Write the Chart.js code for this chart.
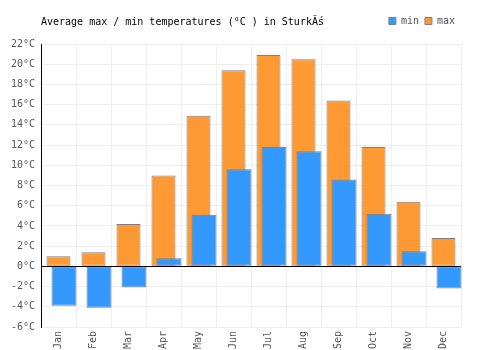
<!DOCTYPE html>
<html>
<head>
<meta charset="utf-8">
<title>Sturkö temperatures</title>
<script src="https://cdn.jsdelivr.net/npm/chart.js@4.4.0/dist/chart.umd.min.js"></script>
<style>
    html, body { margin: 0; padding: 0; background: #ffffff; }
    #wrap { width: 500px; height: 350px; }
</style>
</head>
<body>
<div id="wrap"><canvas id="tempChart" width="500" height="350"></canvas></div>
<script>
// Average monthly temperatures (°C)
const months = ['Jan', 'Feb', 'Mar', 'Apr', 'May', 'Jun', 'Jul', 'Aug', 'Sep', 'Oct', 'Nov', 'Dec'];
const minTemps = [-3.9, -4.1, -2.1, 0.8, 5.1, 9.6, 11.8, 11.4, 8.6, 5.2, 1.5, -2.2];
const maxTemps = [1.0, 1.4, 4.2, 9.0, 14.9, 19.4, 20.9, 20.5, 16.4, 11.8, 6.4, 2.8];
const yTickValues = [-6, -4, -2, 0, 2, 4, 6, 8, 10, 12, 14, 16, 18, 20, 22];

const titleText = 'Average max / min temperatures (°C ) in SturkĂś';
const gridColor = '#eeeeee';
const tickColor = '#555555';

// min bars sit a bit right of the max bars: slide the hidden x2 axis
const shiftMinAxis = {
    id: 'shiftMinAxis',
    afterLayout(chart) {
        const x2 = chart.scales.x2;
        const step = (x2.right - x2.left) / months.length;
        const dx = step * 0.157;
        x2.left += dx;
        x2.right += dx;
        x2.configure();
    }
};

// black zero line drawn over the bars
const zeroLine = {
    id: 'zeroLine',
    afterDatasetsDraw(chart) {
        const { ctx, chartArea, scales } = chart;
        const y = Math.round(scales.y.getPixelForValue(0)) + 0.5;
        ctx.save();
        ctx.strokeStyle = '#000';
        ctx.lineWidth = 1;
        ctx.beginPath();
        ctx.moveTo(chartArea.left, y);
        ctx.lineTo(chartArea.right, y);
        ctx.stroke();
        ctx.restore();
    }
};

document.addEventListener('DOMContentLoaded', function() {
    Chart.defaults.font.family = "'DejaVu Sans Mono', 'Liberation Mono', monospace";
    Chart.defaults.font.size = 10;

    const ctx = document.getElementById('tempChart').getContext('2d');
    new Chart(ctx, {
        type: 'bar',
        data: {
            labels: months,
            datasets: [{
                label: 'min',
                data: minTemps,
                xAxisID: 'x2',
                grouped: false,
                backgroundColor: '#3399ff',
                borderColor: '#808080',
                borderWidth: 1,
                borderSkipped: false,
                categoryPercentage: 1,
                barPercentage: 0.714
            }, {
                label: 'max',
                data: maxTemps,
                xAxisID: 'x',
                grouped: false,
                backgroundColor: '#ff9933',
                borderColor: '#808080',
                borderWidth: 1,
                borderSkipped: false,
                categoryPercentage: 1,
                barPercentage: 0.686
            }]
        },
        options: {
            responsive: false,
            animation: false,
            layout: { padding: { top: 10, right: 39, bottom: 0, left: 0 } },
            plugins: {
                legend: {
                    position: 'top',
                    align: 'end',
                    weight: 1000,
                    labels: {
                        color: tickColor,
                        boxWidth: 7,
                        boxHeight: 7,
                        padding: 6
                    }
                },
                title: {
                    display: true,
                    text: titleText,
                    align: 'start',
                    position: 'top',
                    fullSize: false,
                    weight: 500,
                    color: '#000',
                    font: { size: 10, weight: 'normal' },
                    padding: { top: -20, bottom: 16 }
                },
                tooltip: { enabled: false }
            },
            scales: {
                x: {
                    type: 'category',
                    offset: true,
                    grid: { color: gridColor, offset: true, drawTicks: false },
                    border: { display: false },
                    ticks: {
                        color: tickColor,
                        maxRotation: 90,
                        minRotation: 90,
                        autoSkip: false,
                        padding: 4
                    },
                    afterFit: axis => { axis.height = 23; }
                },
                x2: {
                    type: 'category',
                    display: false,
                    offset: true,
                    grid: { offset: true }
                },
                y: {
                    min: yTickValues[0],
                    max: yTickValues[yTickValues.length - 1],
                    afterBuildTicks: axis => {
                        axis.ticks = yTickValues.map(v => ({ value: v }));
                    },
                    ticks: {
                        color: tickColor,
                        padding: 6,
                        callback: v => v + '°C'
                    },
                    grid: {
                        color: c => c.tick && c.tick.value === 0 ? '#000' : gridColor,
                        drawTicks: false
                    },
                    border: { color: '#000', width: 1 },
                    afterFit: axis => { axis.width = 41; }
                }
            }
        },
        plugins: [shiftMinAxis, zeroLine]
    });
});
</script>
</body>
</html>
